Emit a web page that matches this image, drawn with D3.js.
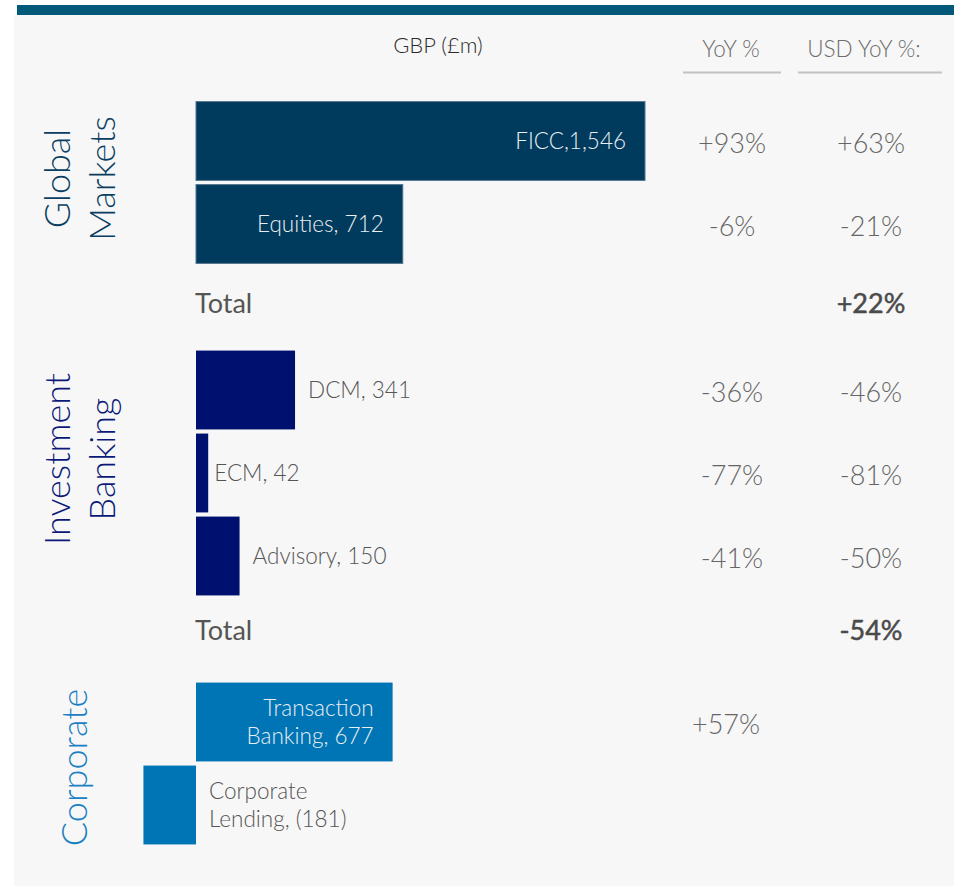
<!DOCTYPE html>
<html>
<head>
<meta charset="utf-8">
<script src="https://cdn.jsdelivr.net/npm/d3@7"></script>
<style>
  body { margin: 0; background: #ffffff; }
  svg { display: block; font-family: Lato, "Open Sans", sans-serif; }
</style>
</head>
<body>
<div id="chart"></div>
<script>
// Datos ---------------------------------------------------------------------
const grupos = ["Global Markets", "Investment Banking", "Corporate"];
const grupoLineas = [["Global", "Markets"], ["Investment", "Banking"], ["Corporate"]];
const grupoTotalUsd = ["+22%", "-54%", null];

const categorias = ["FICC", "Equities", "DCM", "ECM", "Advisory", "Transaction Banking", "Corporate Lending"];
const categoriaGrupo = ["Global Markets", "Global Markets", "Investment Banking", "Investment Banking",
  "Investment Banking", "Corporate", "Corporate"];
const valoresGbp = [1546, 712, 341, 42, 150, 677, -181];
const etiquetas = [["FICC,1,546"], ["Equities, 712"], ["DCM, 341"], ["ECM, 42"], ["Advisory, 150"],
  ["Transaction", "Banking, 677"], ["Corporate", "Lending, (181)"]];
const yoyGbp = ["+93%", "-6%", "-36%", "-77%", "-41%", "+57%", ""];
const yoyUsd = ["+63%", "-21%", "-46%", "-81%", "-50%", "", ""];

const encabezados = ["GBP (£m)", "YoY %", "USD YoY %:"];

// Configuración -------------------------------------------------------------
const WIDTH = 954;
const HEIGHT = 887;
const colores = {
  "Global Markets": "#003a5c",
  "Investment Banking": "#00106e",
  "Corporate": "#0075b5"
};
const coloresTitulo = {
  "Global Markets": "#0a3f62",
  "Investment Banking": "#0b1a78",
  "Corporate": "#1a80c2"
};
const ajusteTitulo = { "Global Markets": -4, "Investment Banking": -14, "Corporate": 4 };

const SVG = d3.select("#chart").append("svg")
  .attr("width", WIDTH)
  .attr("height", HEIGHT);

// fondo y barra superior
SVG.append("rect").attr("x", 14).attr("y", 15).attr("width", WIDTH - 14).attr("height", 871).attr("fill", "#f7f7f7");
SVG.append("rect").attr("x", 17).attr("y", 5).attr("width", WIDTH - 17).attr("height", 10).attr("fill", "#03597a");

// filas: categorias + una fila "Total" por grupo que tenga total
const datos = categorias.map((c, i) => ({
  cat: c, grupo: categoriaGrupo[i], valor: valoresGbp[i], etiqueta: etiquetas[i],
  yoy: yoyGbp[i], usd: yoyUsd[i]
}));
const filas = [];
grupos.forEach((g, gi) => {
  datos.filter(d => d.grupo === g).forEach(d => filas.push(d.cat));
  if (grupoTotalUsd[gi]) filas.push(g + "|Total");
});

const y = d3.scaleBand().domain(filas).range([99.5, 846.5]).paddingInner(0.05).paddingOuter(0.025);
const x = d3.scaleLinear().domain([0, 1546]).range([196, 645]);
const xYoy = 732;
const xUsd = 871;

// encabezados
SVG.append("text").attr("x", 438).attr("y", 53).attr("text-anchor", "middle")
  .style("font-size", "22px").style("font-weight", 300).attr("fill", "#2b2b2b").text(encabezados[0]);
[[encabezados[1], 731, 683, 781], [encabezados[2], 864, 798, 942]].forEach(h => {
  SVG.append("text").attr("x", h[1]).attr("y", 57).attr("text-anchor", "middle")
    .style("font-size", "22.5px").style("font-weight", 300).attr("fill", "#6e6e6e").text(h[0]);
  SVG.append("line").attr("x1", h[2]).attr("x2", h[3]).attr("y1", 72.5).attr("y2", 72.5)
    .attr("stroke", "#c2c2c2").attr("stroke-width", 2);
});

// barras
SVG.selectAll("rect.barra")
  .data(datos)
  .enter()
  .append("rect")
  .attr("class", "barra")
  .attr("x", d => x(Math.min(0, d.valor)))
  .attr("y", d => y(d.cat))
  .attr("width", d => Math.abs(x(d.valor) - x(0)))
  .attr("height", y.bandwidth())
  .attr("fill", d => colores[d.grupo])
  .attr("stroke", d => d.grupo === "Global Markets" ? "#56758c" : "none")
  .attr("stroke-width", 1);

// etiquetas de barras (dentro si la barra es grande)
const etiquetasG = SVG.selectAll("text.etiqueta")
  .data(datos)
  .enter()
  .append("text")
  .attr("class", "etiqueta")
  .attr("text-anchor", d => d.valor > 500 ? "end" : "start")
  .attr("x", d => d.valor > 500 ? x(d.valor) - 19 : x(Math.max(0, d.valor)) + (d.valor < 100 && d.valor > 0 ? 6 : 13))
  .attr("y", d => y(d.cat) + y.bandwidth() / 2)
  .attr("fill", d => d.valor > 500 ? "#e8eef2" : "#555")
  .style("font-size", "22.5px")
  .style("font-weight", 300);

etiquetasG.each(function (d) {
  const n = d.etiqueta.length;
  d3.select(this).selectAll("tspan")
    .data(d.etiqueta)
    .enter()
    .append("tspan")
    .attr("x", d3.select(this).attr("x"))
    .attr("dy", (t, i) => i === 0 ? `${0.35 - (n - 1) * 0.62}em` : "1.24em")
    .text(t => t);
});

// porcentajes
SVG.selectAll("text.yoy")
  .data(datos.filter(d => d.yoy))
  .enter()
  .append("text")
  .attr("class", "yoy")
  .attr("x", d => d.grupo === "Corporate" ? xYoy - 6 : xYoy)
  .attr("y", d => y(d.cat) + y.bandwidth() / 2 + 3)
  .attr("dy", "0.35em")
  .attr("text-anchor", "middle")
  .attr("fill", "#666")
  .style("font-size", "27px")
  .style("font-weight", 300)
  .text(d => d.yoy);

SVG.selectAll("text.usd")
  .data(datos.filter(d => d.usd))
  .enter()
  .append("text")
  .attr("class", "usd")
  .attr("x", xUsd)
  .attr("y", d => y(d.cat) + y.bandwidth() / 2 + 3)
  .attr("dy", "0.35em")
  .attr("text-anchor", "middle")
  .attr("fill", "#666")
  .style("font-size", "27px")
  .style("font-weight", 300)
  .text(d => d.usd);

// filas de total
grupos.forEach((g, gi) => {
  if (!grupoTotalUsd[gi]) return;
  const cy = y(g + "|Total") + y.bandwidth() / 2 - (gi === 0 ? 3 : 8);
  SVG.append("text").attr("x", x(0) - 1).attr("y", cy).attr("dy", "0.35em")
    .attr("fill", "#555").style("font-size", "27px").style("font-weight", 400).text("Total");
  SVG.append("text").attr("x", xUsd).attr("y", cy).attr("dy", "0.35em").attr("text-anchor", "middle")
    .attr("fill", "#4a4a4a").attr("stroke", "#4a4a4a").attr("stroke-width", 0.5)
    .style("font-size", "27px").style("font-weight", 400).text(grupoTotalUsd[gi]);
});

// títulos de grupo verticales
grupos.forEach((g, gi) => {
  const cats = datos.filter(d => d.grupo === g);
  const cy = d3.mean(cats, d => y(d.cat) + y.bandwidth() / 2) + ajusteTitulo[g];
  const lineas = grupoLineas[gi];
  const bases = lineas.length === 1 ? [87] : [70, 115];
  lineas.forEach((t, li) => {
    SVG.append("text")
      .attr("transform", `translate(${bases[li]},${cy}) rotate(-90)`)
      .attr("text-anchor", "middle")
      .attr("fill", coloresTitulo[g])
      .style("font-size", "36px")
      .style("font-weight", 300)
      .text(t);
  });
});
</script>
</body>
</html>
